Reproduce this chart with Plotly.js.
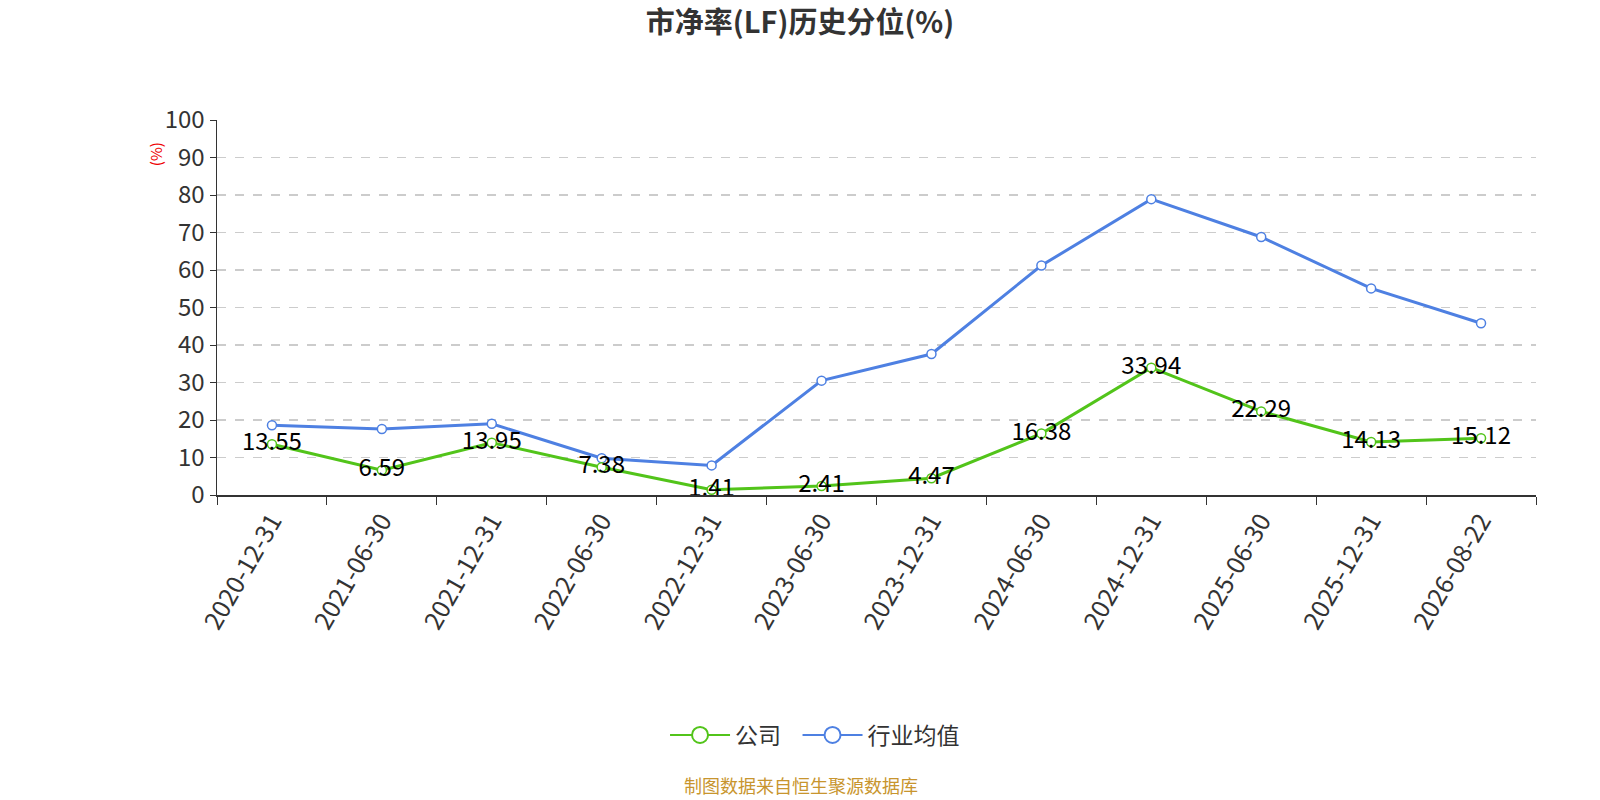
<!DOCTYPE html>
<html>
<head>
<meta charset="utf-8">
<script src="https://cdn.plot.ly/plotly-3.0.1.min.js"></script>
<style>html,body{margin:0;padding:0;background:#fff;overflow:hidden;}#chart{width:1600px;height:800px;}</style>
</head>
<body>
<div id="chart"></div>
<script>
const categories = ["2020-12-31","2021-06-30","2021-12-31","2022-06-30","2022-12-31","2023-06-30","2023-12-31","2024-06-30","2024-12-31","2025-06-30","2025-12-31","2026-08-22"];
const companyValues = [13.55, 6.59, 13.95, 7.38, 1.41, 2.41, 4.47, 16.38, 33.94, 22.29, 14.13, 15.12];
const industryValues = [18.6, 17.6, 19.0, 9.8, 7.9, 30.5, 37.6, 61.2, 78.9, 68.8, 55.1, 45.8];
const yTicks = [0,10,20,30,40,50,60,70,80,90,100];

const font = '"Noto Sans CJK SC", "Noto Sans", sans-serif';
const green = '#52C41A';
const blue = '#4E80E2';

const traces = [
  {
    x: categories, y: industryValues, name: '行业均值', type: 'scatter', mode: 'lines+markers',
    line: {color: blue, width: 3},
    marker: {symbol: 'circle', size: 9, color: '#fff', line: {color: blue, width: 1.5}},
    cliponaxis: false, showlegend: false
  },
  {
    x: categories, y: companyValues, name: '公司', type: 'scatter', mode: 'lines+markers+text',
    text: companyValues.map(v => v.toFixed(2)), textposition: 'middle center',
    textfont: {family: font, size: 24, color: '#000'},
    line: {color: green, width: 3},
    marker: {symbol: 'circle', size: 9, color: '#fff', line: {color: green, width: 1.5}},
    cliponaxis: false, showlegend: false
  },
  // legend-only entries (no visible data)
  {
    x: [categories[0]], y: [null], name: '公司\u2002', type: 'scatter', mode: 'lines+markers',
    line: {color: green, width: 2},
    marker: {symbol: 'circle', size: 22, color: '#fff', line: {color: green, width: 2}},
    showlegend: true
  },
  {
    x: [categories[0]], y: [null], name: '行业均值', type: 'scatter', mode: 'lines+markers',
    line: {color: blue, width: 2},
    marker: {symbol: 'circle', size: 22, color: '#fff', line: {color: blue, width: 2}},
    showlegend: true
  }
];

const layout = {
  width: 1600, height: 800,
  paper_bgcolor: '#fff', plot_bgcolor: '#fff',
  margin: {l: 217, r: 64, t: 120, b: 305, autoexpand: false},
  font: {family: font, color: '#333'},
  title: {text: '<b>市净率(LF)历史分位(%)</b>', x: 0.5, xanchor: 'center', y: 0.972, yanchor: 'middle', font: {family: font, size: 29, color: '#333'}},
  xaxis: {
    type: 'category', tickangle: -60, tickfont: {family: font, size: 25, color: '#333'},
    showline: true, linecolor: '#333', linewidth: 1.5,
    ticks: 'outside', ticklen: 8, tickcolor: '#333', tickson: 'boundaries',
    showgrid: false, zeroline: false, range: [-0.5, 11.5]
  },
  yaxis: {
    range: [0, 100], tickvals: yTicks, ticktext: yTicks.map(String),
    tickfont: {family: font, size: 24, color: '#333'},
    showline: true, linecolor: '#333', linewidth: 1.5,
    ticks: 'outside', ticklen: 6, tickcolor: '#333',
    showgrid: true, gridcolor: '#ccc', griddash: 'dash', gridwidth: 1.2, zeroline: false
  },
  showlegend: true,
  legend: {
    orientation: 'h', x: 0.4534, xanchor: 'center', y: -0.64, yanchor: 'middle',
    font: {family: font, size: 23, color: '#333'}, itemwidth: 60
  },
  annotations: [
    {text: '(%)', xref: 'paper', yref: 'paper', x: -0.0465, y: 0.908, xanchor: 'center', yanchor: 'middle', textangle: -90, showarrow: false, font: {family: font, size: 15, color: '#e00'}},
    {text: '制图数据来自恒生聚源数据库', xref: 'paper', yref: 'paper', x: 0.443, y: -0.772, xanchor: 'center', yanchor: 'middle', showarrow: false, font: {family: font, size: 18, color: '#C8952E'}}
  ]
};

Plotly.newPlot('chart', traces, layout, {displayModeBar: false, staticPlot: true});
</script>
</body>
</html>
